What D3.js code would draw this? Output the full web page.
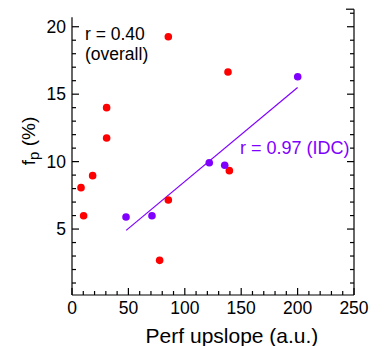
<!DOCTYPE html>
<html>
<head>
<meta charset="utf-8">
<script src="https://cdn.jsdelivr.net/npm/d3@7"></script>
<style>
  body { margin: 0; background: #fff; }
  svg { display: block; font-family: "Liberation Sans", Arial, sans-serif; }
</style>
</head>
<body>
<svg id="chart" width="386" height="346"></svg>
<script>
// red points (all patients)
const redX = [85.4, 138.3, 30.7, 30.7, 18.3, 8.0, 10.3, 85.4, 139.5, 77.7];
const redY = [19.26, 16.64, 14.0, 11.75, 8.96, 8.07, 5.99, 7.15, 9.33, 2.68];
// purple points (IDC)
const idcX = [47.9, 70.9, 121.7, 135.4, 200.1];
const idcY = [5.89, 5.99, 9.92, 9.73, 16.29];
// fit line ends for IDC
const fitX = [48, 200];
const fitY = [4.9, 15.5];

const xTicks = [0, 50, 100, 150, 200, 250];
const yTicks = [5, 10, 15, 20];

const svg = d3.select("#chart");
const left = 72, right = 354, bottom = 295;

const x = d3.scaleLinear().domain([0, 250]).range([left, right]);
const y = d3.scaleLinear().domain([0, 21.3]).range([296.5, 9.2]);

const RED = "#ff0000", PURPLE = "#8000ff";

// minor ticks
const xMinor = d3.range(10, 250, 10).filter(v => v % 50 !== 0);
const yMinor = d3.range(1, 21).filter(v => v % 5 !== 0);
const yMinorRight = d3.range(1, 22).filter(v => v % 5 !== 0);

const ax = svg.append("g").attr("stroke", "#000").attr("stroke-width", 1.2);

// left axis line
ax.append("line").attr("x1", left).attr("x2", left).attr("y1", y(20.7)).attr("y2", bottom);
// bottom axis line
ax.append("line").attr("x1", left).attr("x2", right).attr("y1", bottom).attr("y2", bottom);
// right axis line + top cap
ax.append("line").attr("x1", right).attr("x2", right).attr("y1", y(21.3)).attr("y2", bottom);
ax.append("line").attr("x1", right - 8).attr("x2", right).attr("y1", y(21.3)).attr("y2", y(21.3));

// y ticks (left, inward)
ax.selectAll(".yl").data(yTicks).join("line")
  .attr("x1", left).attr("x2", left + 7).attr("y1", d => y(d)).attr("y2", d => y(d));
ax.selectAll(".ylm").data(yMinor).join("line")
  .attr("x1", left).attr("x2", left + 4).attr("y1", d => y(d)).attr("y2", d => y(d));
// y ticks (right, inward)
ax.selectAll(".yr").data(yTicks).join("line")
  .attr("x1", right).attr("x2", right - 7).attr("y1", d => y(d)).attr("y2", d => y(d));
ax.selectAll(".yrm").data(yMinorRight).join("line")
  .attr("x1", right).attr("x2", right - 4).attr("y1", d => y(d)).attr("y2", d => y(d));
// x ticks (bottom, inward)
ax.selectAll(".xb").data(xTicks).join("line")
  .attr("x1", d => x(d)).attr("x2", d => x(d)).attr("y1", bottom).attr("y2", bottom - 7);
ax.selectAll(".xbm").data(xMinor).join("line")
  .attr("x1", d => x(d)).attr("x2", d => x(d)).attr("y1", bottom).attr("y2", bottom - 4);

// tick labels
svg.append("g").selectAll("text").data(yTicks).join("text")
  .attr("x", 66).attr("y", d => y(d)).attr("dy", "0.35em")
  .attr("text-anchor", "end").attr("font-size", 17.5).text(d => d);
svg.append("g").selectAll("text").data(xTicks).join("text")
  .attr("x", d => x(d)).attr("y", 314)
  .attr("text-anchor", "middle").attr("font-size", 17.5).text(d => d);

// axis titles
svg.append("text").attr("x", 232).attr("y", 343)
  .attr("text-anchor", "middle").attr("font-size", 21).text("Perf upslope (a.u.)");
const yl = svg.append("text").attr("transform", "translate(35,141) rotate(-90)")
  .attr("text-anchor", "middle").attr("font-size", 19);
yl.append("tspan").text("f");
yl.append("tspan").attr("dy", 4).attr("font-size", 15).text("p");
yl.append("tspan").attr("dy", -4).text(" (%)");

// fit line
svg.append("line")
  .attr("x1", x(fitX[0])).attr("y1", y(fitY[0]))
  .attr("x2", x(fitX[1])).attr("y2", y(fitY[1]))
  .attr("stroke", PURPLE).attr("stroke-width", 1.2);

// points
const red = redX.map((v, i) => ({ x: v, y: redY[i] }));
const idc = idcX.map((v, i) => ({ x: v, y: idcY[i] }));
svg.append("g").selectAll("circle").data(red).join("circle")
  .attr("cx", d => x(d.x)).attr("cy", d => y(d.y)).attr("r", 3.8).attr("fill", RED);
svg.append("g").selectAll("circle").data(idc).join("circle")
  .attr("cx", d => x(d.x)).attr("cy", d => y(d.y)).attr("r", 3.8).attr("fill", PURPLE);

// annotations
svg.append("text").attr("x", 85).attr("y", 40).attr("font-size", 17.5).text("r = 0.40");
svg.append("text").attr("x", 85).attr("y", 60).attr("font-size", 17.5).text("(overall)");
svg.append("text").attr("x", 240).attr("y", 154).attr("font-size", 18)
  .attr("fill", PURPLE).text("r = 0.97 (IDC)");
</script>
</body>
</html>
